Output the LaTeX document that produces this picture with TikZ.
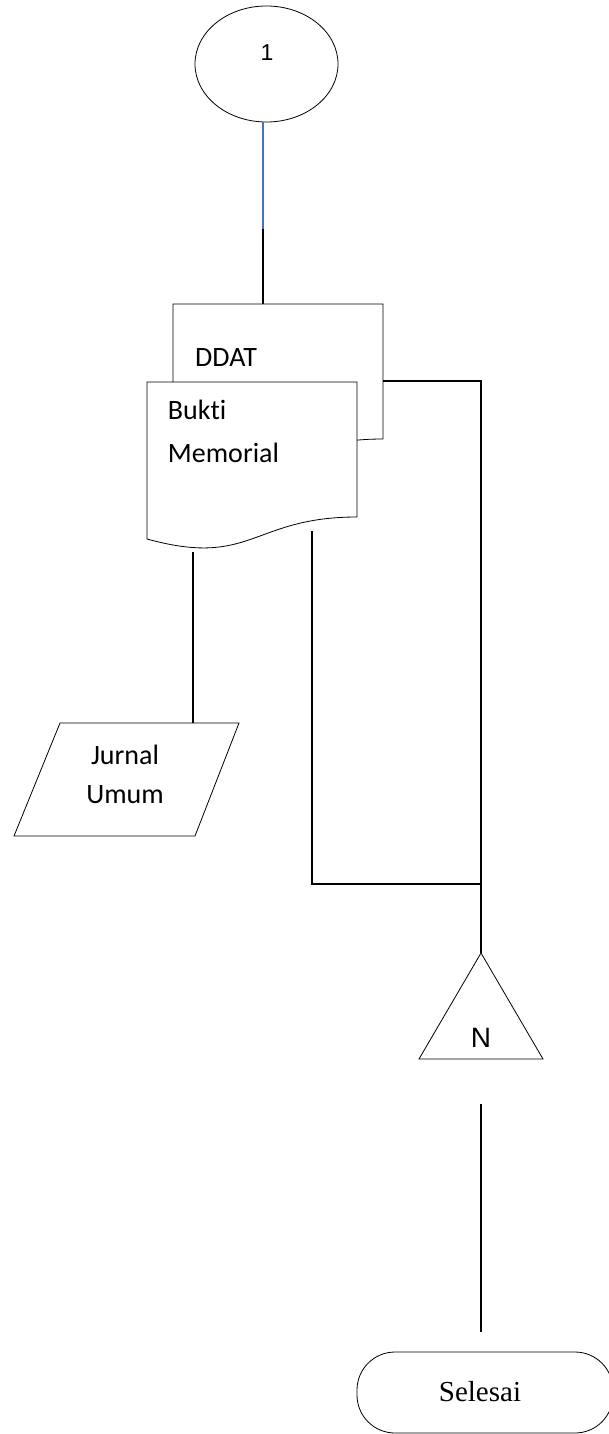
\documentclass[tikz,border=0pt]{standalone}
\usepackage{fontspec}
\setmainfont[Ligatures=NoCommon]{Carlito}
\newfontfamily\arialfont{Liberation Sans}
\newfontfamily\timesfont{Liberation Serif}
\usetikzlibrary{shapes.geometric}
\definecolor{linkblue}{RGB}{68,114,196}
\begin{document}
\begin{tikzpicture}[x=1pt,y=-1pt,
  outline/.style={draw=black, line width=0.8pt, fill=white},
  link/.style={draw=black, line width=1.6pt},
  bluelink/.style={draw=linkblue, line width=1.6pt},
  lbl/.style={inner sep=0pt, font=\fontsize{28}{43}\selectfont}]
\clip (0,0) rectangle (609,1434);
\fill[white] (0,0) rectangle (609,1434);

% off-page connector at the top
\node[ellipse, outline, inner sep=0pt, minimum width=143pt, minimum height=116pt] (start) at (266.5,64) {};
\node[inner sep=0pt, font=\arialfont\fontsize{23}{27}\selectfont] (startlbl) at (267,53) {1};

% junction points of the connectors
\coordinate (trunk) at (263,229);
\coordinate (ddattop) at (263,304);
\coordinate (ddatR) at (383,381);
\coordinate (cR) at (481,381);
\coordinate (join) at (481,884);
\coordinate (loopL) at (312,884);
\coordinate (loopTop) at (312,531);
\coordinate (bmBottom) at (193,552);
\coordinate (jurTop) at (193,723);
\coordinate (tritop) at (481,953);
\coordinate (endA) at (481,1104);
\coordinate (endB) at (481,1332);

% document DDAT (behind)
\path[outline] (173,304) -- (383,304) -- (383,439)
  .. controls (278,439) and (278,490) .. (173,461) -- cycle;
\node[lbl, anchor=base west] (ddat) at (195,366) {DDAT};

% document Bukti Memorial (front)
\path[outline] (147,382) -- (357,382) -- (357,517)
  .. controls (252,517) and (252,568) .. (147,539) -- cycle;
\node[lbl, align=left] (bukti) at (223.5,431) {Bukti\\Memorial};

% journal (input/output)
\path[outline] (60,723) -- (239,723) -- (195,836) -- (14,836) -- cycle;
\node[lbl, align=center, font=\fontsize{28}{39}\selectfont] (jurnal) at (125,774) {Jurnal\\Umum};

% off-line storage N
\path[outline] (481,953) -- (543,1059) -- (419,1059) -- cycle;
\node[inner sep=0pt, font=\arialfont\fontsize{28}{32}\selectfont] (arsip) at (481,1038) {N};

% terminator
\node[draw=black, line width=0.8pt, rounded corners=38pt, minimum width=256pt,
      minimum height=81pt] (finish) at (485,1392.5) {};
\node[inner sep=0pt, font=\timesfont\fontsize{29}{34}\selectfont] (selesai) at (480,1392) {Selesai};

% connectors
\draw[bluelink] (start.south -| trunk) -- (trunk);
\draw[link] (trunk) -- (ddattop);
\draw[link] (ddatR) -- (cR) -- (join) -- (tritop);
\draw[link] (loopTop) -- (loopL) -- (join);
\draw[link] (bmBottom) -- (jurTop);
\draw[link] (endA) -- (endB);
\end{tikzpicture}
\end{document}
